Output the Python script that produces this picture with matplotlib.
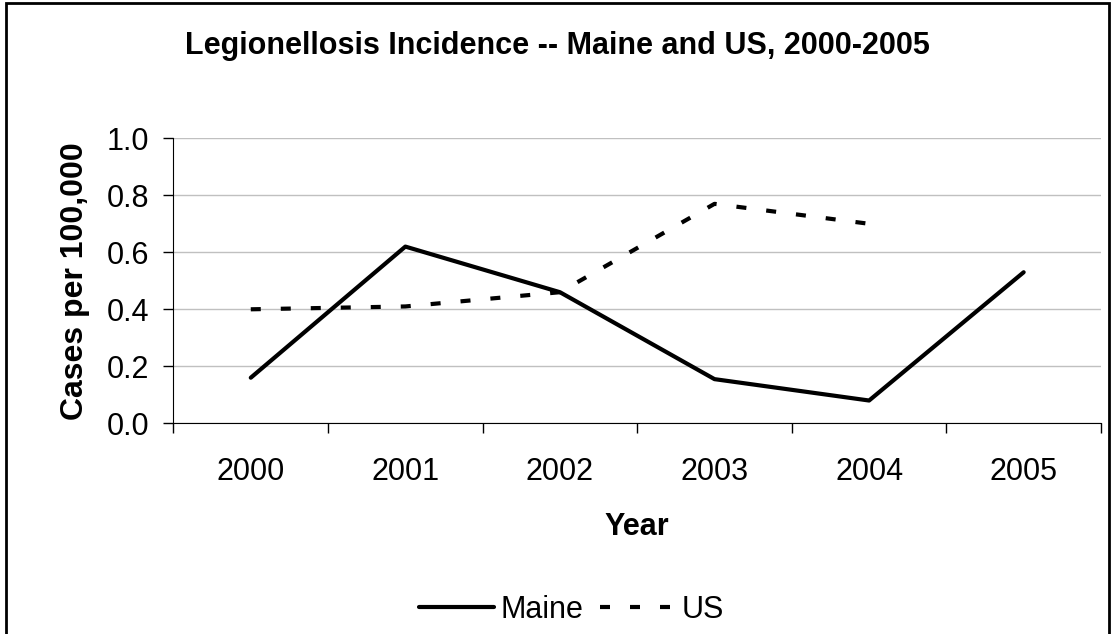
import numpy as np
import matplotlib.pyplot as plt
from matplotlib.patches import Rectangle

# Data
years = ['2000', '2001', '2002', '2003', '2004', '2005']
maine = [0.16, 0.62, 0.46, 0.155, 0.08, 0.53]
us = [0.40, 0.41, 0.46, 0.77, 0.70]

plt.rcParams['font.family'] = ['Liberation Sans', 'DejaVu Sans']

fig = plt.figure(figsize=(11.15, 6.34), dpi=100)
ax = fig.add_axes([0.1556, 0.3323, 0.9874 - 0.1556, 0.7819 - 0.3323])

x = np.arange(len(years))
ax.plot(x, maine, color='black', lw=3, solid_capstyle='round', label='Maine')
ax.plot(x[:len(us)], us, color='black', lw=3, dashes=(2.4, 4.8),
        dash_capstyle='butt', label='US')

ax.set_xlim(-0.5, len(years) - 0.5)
ax.set_ylim(0, 1.0)

# tick marks on category boundaries, labels at centres
ax.set_xticks(np.arange(-0.5, len(years), 1.0))
ax.set_xticklabels([])
ax.set_xticks(x, minor=True)
ax.set_xticklabels(years, minor=True, fontsize=22)
ax.tick_params(axis='x', which='major', direction='out', length=7.2, width=1)
ax.tick_params(axis='x', which='minor', length=0, pad=24)

yt = np.arange(0, 1.01, 0.2)
ax.set_yticks(yt)
ax.set_yticklabels(['%.1f' % v for v in yt], fontsize=22)
ax.tick_params(axis='y', direction='out', length=7.2, width=1, pad=10.5)

ax.grid(axis='y', color='#c0c0c0', lw=1)
ax.set_axisbelow(True)
for s in ['top', 'right']:
    ax.spines[s].set_visible(False)

ax.set_xlabel('Year', fontsize=22, fontweight='bold', labelpad=18)
ax.set_ylabel('Cases per 100,000', fontsize=23, fontweight='bold', labelpad=12)

fig.text(0.5, 0.927, 'Legionellosis Incidence -- Maine and US, 2000-2005',
         ha='center', va='center', fontsize=22, fontweight='bold')

fig.legend(loc='center', bbox_to_anchor=(0.5126, 0.038), ncol=2, frameon=False,
           fontsize=22, handlelength=2.46, handletextpad=0.2, columnspacing=0.55)

# chart border (bottom edge is cropped off in the original)
fig.patches.append(Rectangle((0.005, -0.05), 0.99, 1.045, transform=fig.transFigure,
                             fill=False, edgecolor='black', lw=2))

fig.savefig('out.png', dpi=100)
